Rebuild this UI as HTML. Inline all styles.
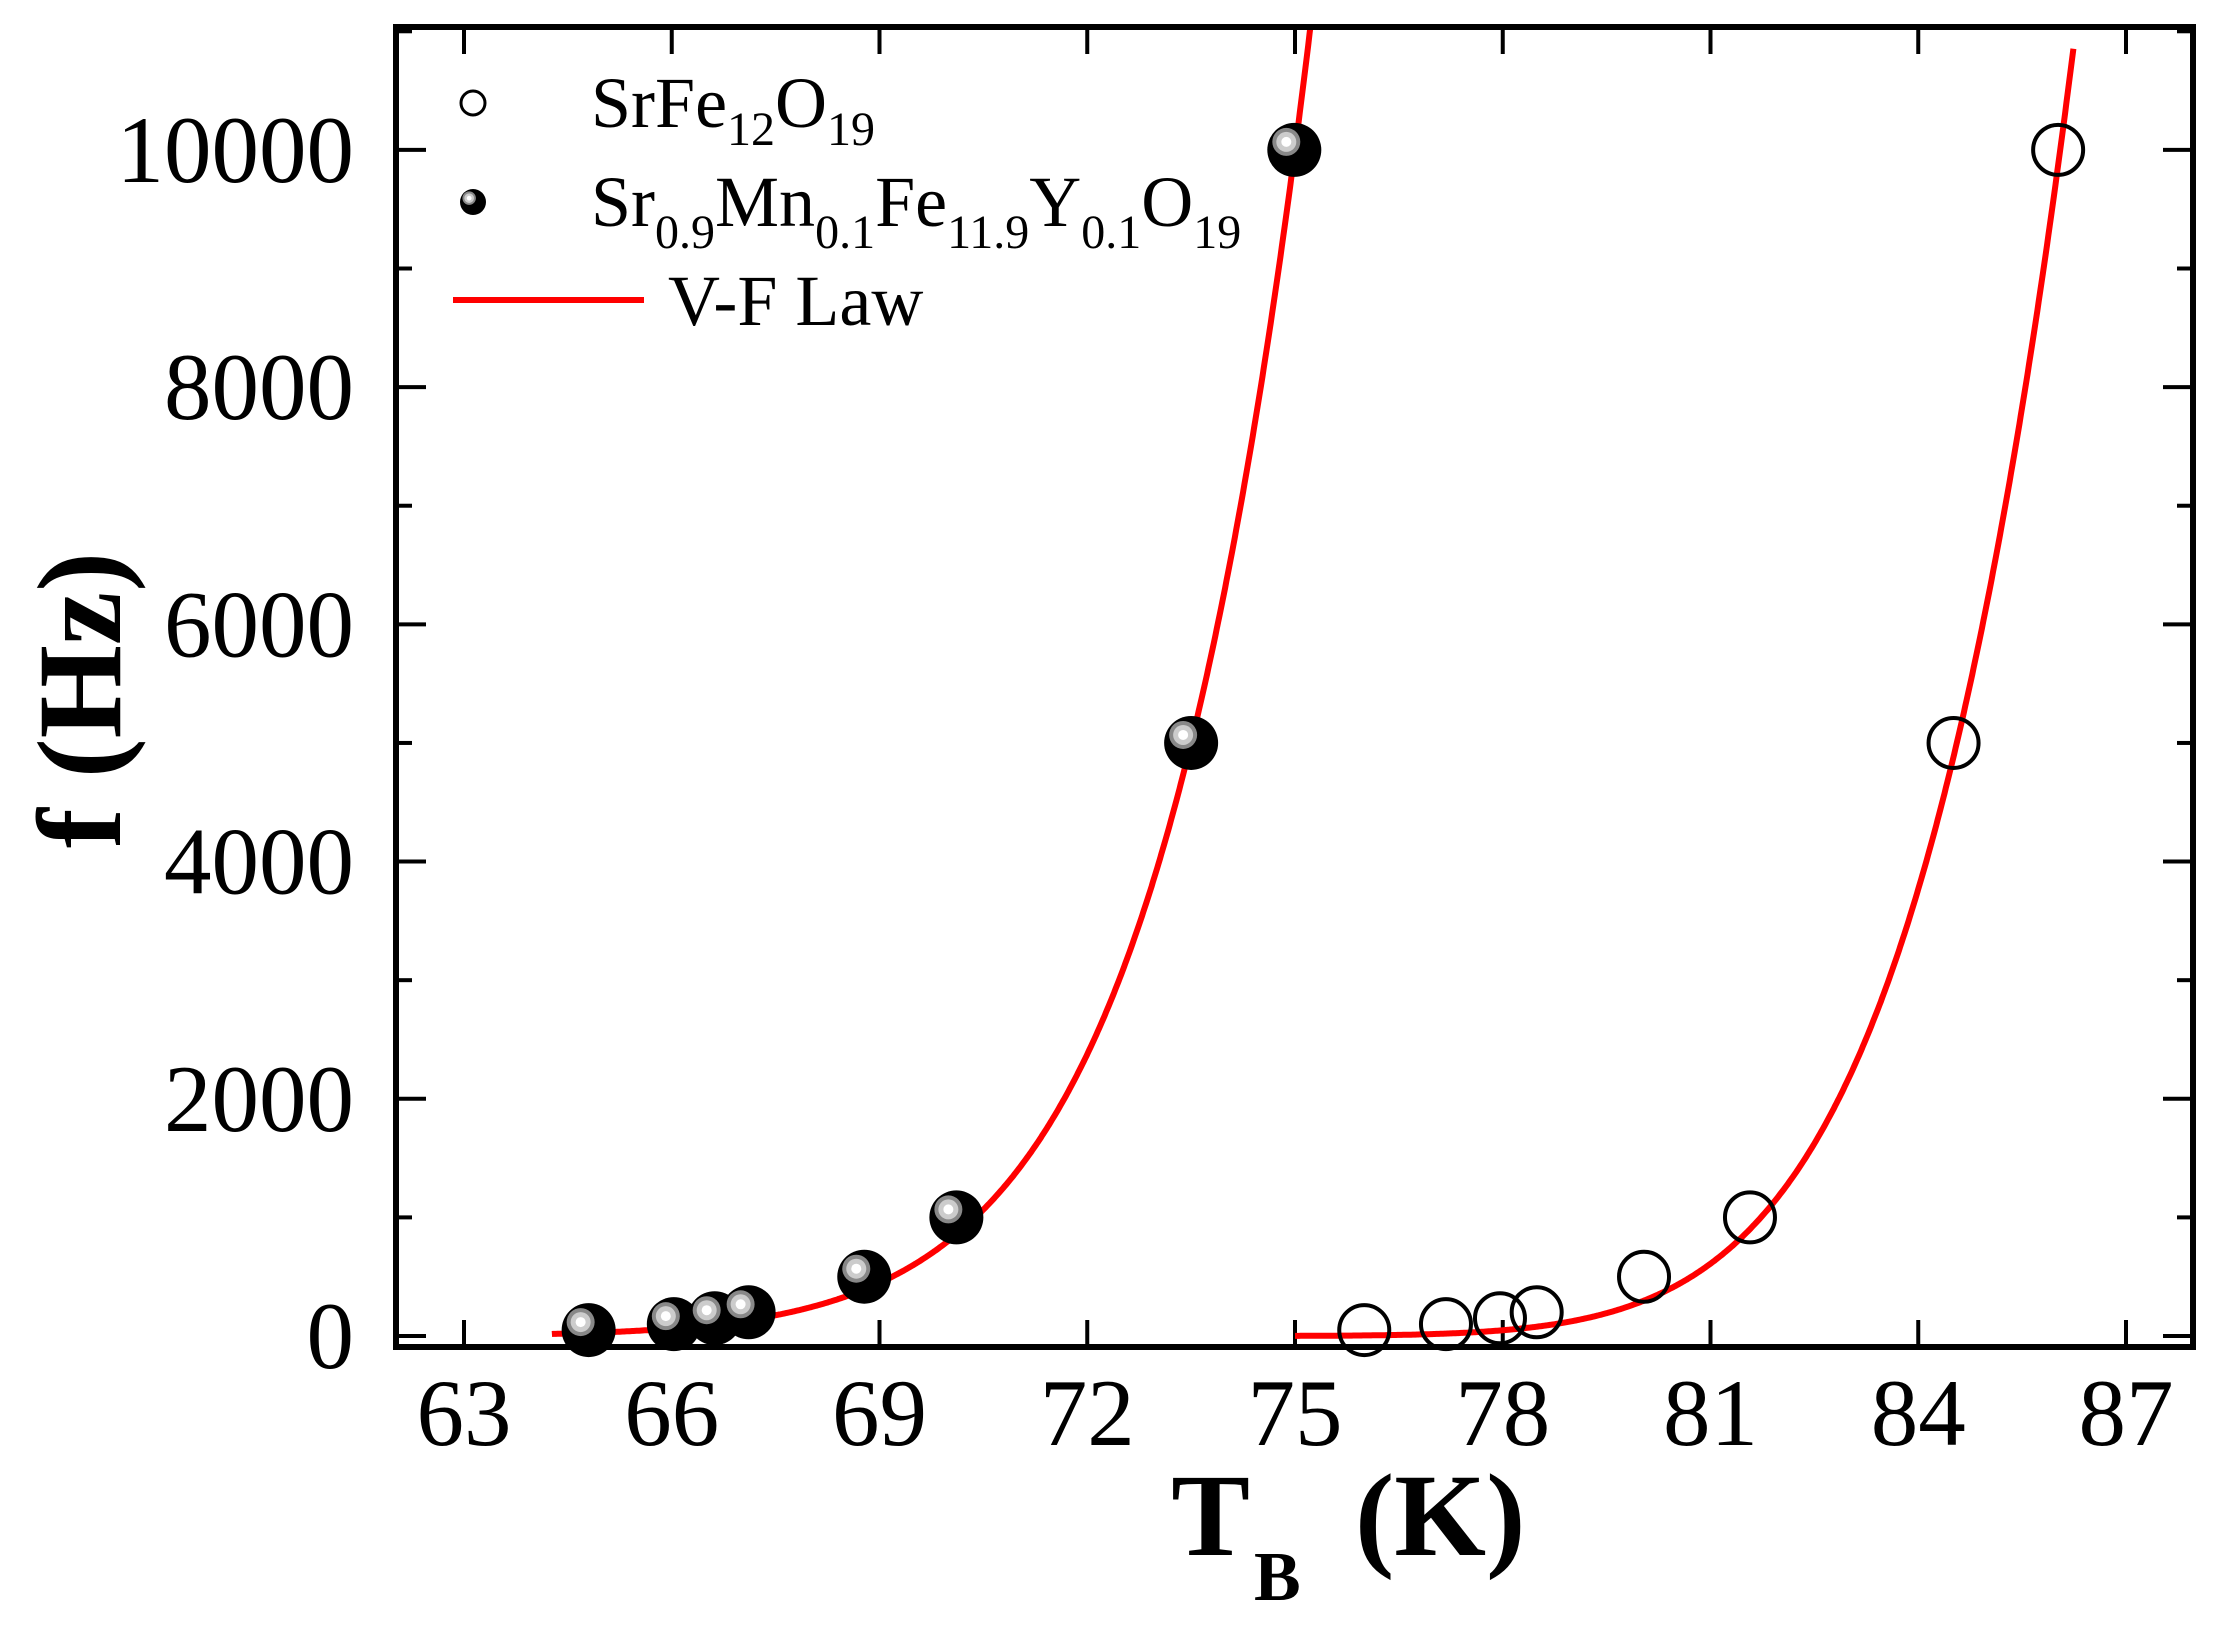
<!DOCTYPE html>
<html><head><meta charset="utf-8"><style>
html,body{margin:0;padding:0;background:#fff;}
svg{display:block;}
text{font-family:"Liberation Serif","Times New Roman",serif;fill:#000;}
</style></head><body>
<svg id="s" width="2219" height="1630" viewBox="0 0 2219 1630" xmlns="http://www.w3.org/2000/svg">
<defs>
<clipPath id="c"><rect x="396" y="27" width="1797" height="1320"/></clipPath>
</defs>
<rect x="0" y="0" width="2219" height="1630" fill="#fff"/>
<g id="ticks" stroke="#000" stroke-width="4"></g>
<g id="curves" clip-path="url(#c)" fill="none" stroke="#ff0000" stroke-width="6"></g>
<g id="pts"></g>
<rect x="396" y="27" width="1797" height="1320" fill="none" stroke="#000" stroke-width="6"/>
<g id="labels" font-size="95"></g>
<text x="1250" y="1555" font-size="118" font-weight="bold" text-anchor="end">T</text>
<text x="1254" y="1600" font-size="70" font-weight="bold">B</text>
<text x="1355" y="1555" font-size="118" font-weight="bold">(K)</text>
<text transform="translate(120,700) rotate(-90)" font-size="120" font-weight="bold" text-anchor="middle">f  (Hz)</text>
<!-- legend -->
<circle cx="473" cy="103" r="12" fill="#fff" stroke="#000" stroke-width="3"/>
<text x="591" y="127" font-size="72">SrFe<tspan font-size="48" dy="18">12</tspan><tspan dy="-18">O</tspan><tspan font-size="48" dy="18">19</tspan></text>
<g id="lm"></g>
<text x="591" y="226" font-size="72">Sr<tspan font-size="48" dy="22">0.9</tspan><tspan dy="-22">Mn</tspan><tspan font-size="48" dy="22">0.1</tspan><tspan dy="-22">Fe</tspan><tspan font-size="48" dy="22">11.9</tspan><tspan dy="-22">Y</tspan><tspan font-size="48" dy="22">0.1</tspan><tspan dy="-22">O</tspan><tspan font-size="48" dy="22">19</tspan></text>
<line x1="453" y1="300" x2="644" y2="300" stroke="#ff0000" stroke-width="6"/>
<text x="668" y="325" font-size="72">V-F Law</text>
</svg>
<script>
var NS="http://www.w3.org/2000/svg";
function X(t){return 464+(t-63)*69.25;}
function Y(f){return 1336-f*0.11861;}
function el(tag,attrs,parent,txt){var e=document.createElementNS(NS,tag);for(var k in attrs)e.setAttribute(k,attrs[k]);if(txt!==undefined)e.textContent=txt;document.getElementById(parent).appendChild(e);return e;}
for(var i=0;i<=8;i++){var t=63+3*i,x=X(t);
 el('line',{x1:x,y1:1347,x2:x,y2:1320},'ticks');
 el('line',{x1:x,y1:27,x2:x,y2:54},'ticks');
 el('text',{x:x,y:1445,'text-anchor':'middle'},'labels',String(t));}
for(var f=0;f<=11000;f+=1000){var y=Y(f),len=(f%2000==0)?30:16;
 el('line',{x1:396,y1:y,x2:396+len,y2:y},'ticks');
 el('line',{x1:2193,y1:y,x2:2193-len,y2:y},'ticks');
 if(f%2000==0&&f<=10000) el('text',{x:354,y:y+32,'text-anchor':'end'},'labels',String(f));}
function curve(t0,t1,u,B,Tr){var d='';for(var t=t0;t<=t1+1e-9;t+=0.02){var f=10000*Math.exp(-B/(t-u)+B/(Tr-u));d+=(d?'L':'M')+X(t).toFixed(1)+','+Y(f).toFixed(1);}el('path',{d:d},'curves');}
curve(64.27,75.8,31.7,836,75.0);
curve(75.0,86.25,62.6,239,86.05);
var fs=[50,100,150,200,500,1000,5000,10000];
var tf=[64.8,66.03,66.62,67.11,68.78,70.11,73.5,74.99];
var to=[76.0,77.18,77.96,78.49,80.04,81.57,84.51,86.02];
function filled(cx,cy,r,p){el('circle',{cx:cx,cy:cy,r:r,fill:'#000'},p);
 var s=r/27;el('circle',{cx:cx-8*s,cy:cy-8*s,r:14*s,fill:'#888'},p);
 el('circle',{cx:cx-8*s,cy:cy-8*s,r:10*s,fill:'#ccc'},p);
 el('circle',{cx:cx-8*s,cy:cy-8*s,r:5*s,fill:'#fff'},p);}
for(var i=0;i<8;i++){filled(X(tf[i]),Y(fs[i]),27,'pts');
 el('circle',{cx:X(to[i]),cy:Y(fs[i]),r:25,fill:'none',stroke:'#000','stroke-width':4},'pts');}
filled(473,202,13,'lm');
</script>
</body></html>
